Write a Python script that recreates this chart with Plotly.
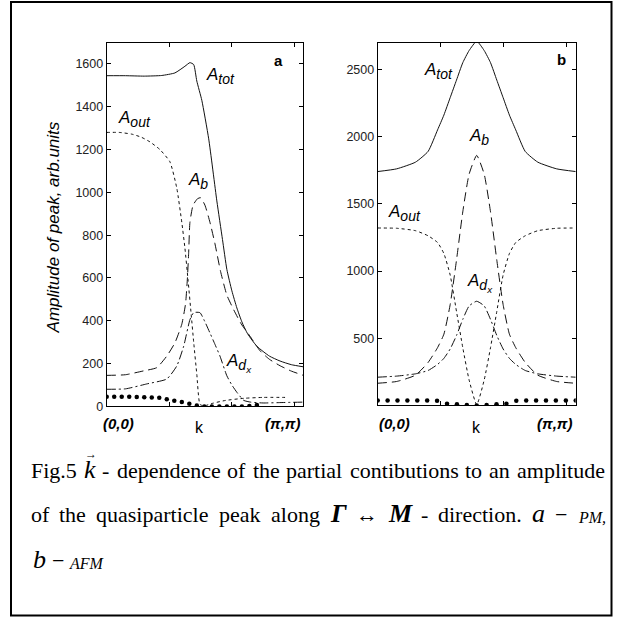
import plotly.graph_objects as go

W, H = 627, 626
PI = 3.1416

# ---------------- Panel a (PM) ----------------
xa_tot = [0, 0.3, 0.6, 0.88, 1.09, 1.25, 1.33, 1.39, 1.44, 1.52, 1.63, 1.76, 1.85, 1.92, 2.0, 2.08, 2.16, 2.25, 2.4, 2.6, 2.77, 2.95, 3.1416]
a_tot = [1545, 1545, 1543, 1546, 1558, 1589, 1606, 1597, 1520, 1430, 1250, 960, 780, 640, 540, 460, 395, 340, 281, 235, 212, 195, 185]

xa_out = [0, 0.2, 0.4, 0.55, 0.69, 0.85, 1.01, 1.12, 1.2, 1.25, 1.3, 1.35, 1.39, 1.44, 1.49, 1.55, 1.7, 1.9, 2.2, 2.5, 2.85]
a_out = [1280, 1280, 1272, 1258, 1236, 1200, 1143, 1020, 860, 740, 590, 430, 300, 150, 10, 2, 15, 28, 38, 42, 42]

xa_b = [0, 0.3, 0.59, 0.8, 0.96, 1.09, 1.2, 1.26, 1.29, 1.31, 1.33, 1.38, 1.45, 1.5, 1.57, 1.65, 1.73, 1.82, 1.92, 2.03, 2.15, 2.29, 2.45, 2.6, 2.77, 2.95, 3.1416]
a_b = [145, 148, 166, 181, 235, 297, 384, 480, 600, 720, 860, 940, 970, 975, 940, 860, 760, 630, 520, 451, 385, 328, 260, 220, 190, 165, 145]

xa_dx = [0, 0.3, 0.64, 0.96, 1.12, 1.23, 1.33, 1.39, 1.49, 1.57, 1.65, 1.73, 1.81, 1.92, 2.0, 2.08, 2.19, 2.3, 2.5, 2.8, 3.1416]
a_dx = [80, 82, 105, 128, 189, 281, 405, 438, 438, 395, 343, 290, 235, 143, 100, 66, 28, 20, 16, 18, 20]

xa_dots = [0, 0.12, 0.24, 0.36, 0.48, 0.6, 0.72, 0.84, 0.96, 1.08, 1.2, 1.32, 1.44, 1.56, 1.68, 1.8, 1.92, 2.04, 2.16, 2.28, 2.4]
a_dots = [45, 45, 45, 45, 44, 43, 42, 40, 33, 27, 20, 12, 4, 0, 0, 0, 0, 0, 0, 2, 6]

a_yticks = [0, 200, 400, 600, 800, 1000, 1200, 1400, 1600]

# ---------------- Panel b (AFM) ----------------
xb = [0, 0.3, 0.6, 0.8, 0.95, 1.05, 1.15, 1.25, 1.35, 1.45, 1.5708, 1.69, 1.79, 1.89, 1.99, 2.09, 2.19, 2.34, 2.54, 2.84, 3.1416]
b_tot = [1740, 1760, 1810, 1890, 2050, 2160, 2290, 2420, 2550, 2640, 2710, 2640, 2550, 2420, 2290, 2160, 2050, 1890, 1810, 1760, 1740]
b_out = [1320, 1318, 1300, 1262, 1212, 1130, 970, 700, 430, 190, 5, 190, 430, 700, 970, 1130, 1212, 1262, 1300, 1318, 1320]
b_b = [165, 178, 225, 320, 430, 530, 750, 1080, 1440, 1720, 1860, 1720, 1440, 1080, 750, 530, 430, 320, 225, 178, 165]
b_dx = [210, 218, 235, 260, 305, 350, 420, 520, 640, 740, 775, 740, 640, 520, 420, 350, 305, 260, 235, 218, 210]

xb_dots = [0, 0.157, 0.314, 0.471, 0.628, 0.785, 0.942, 1.1, 1.257, 1.414, 1.571, 1.728, 1.885, 2.042, 2.199, 2.356, 2.513, 2.67, 2.827, 2.985, 3.142]
b_dots = [37, 37, 37, 37, 37, 37, 35, 12, 8, 4, 0, 4, 8, 12, 35, 37, 37, 37, 37, 37, 37]

b_yticks = [500, 1000, 1500, 2000, 2500]

x_ticks = [1, 2, 3]
x_labels = ["(0,0)", "k", "(π,π)"]

caption1 = ["Fig.5", "k", "-", "dependence", "of", "the", "partial", "contibutions", "to", "an", "amplitude"]
caption2 = ["of", "the", "quasiparticle", "peak", "along", "Γ", "↔", "M", "-", "direction.", "a", "−", "PM,"]
caption3 = ["b", "−", "AFM"]

SANS = "Liberation Sans"
SERIF = "Liberation Serif"
LC = "#111111"

fig = go.Figure()


def curve(x, y, dash, xa, ya):
    fig.add_trace(go.Scatter(x=x, y=y, mode="lines", xaxis=xa, yaxis=ya,
                             line=dict(color=LC, width=1, dash=dash, shape="spline", smoothing=0.5),
                             hoverinfo="skip", showlegend=False))


def dots(x, y, xa, ya):
    fig.add_trace(go.Scatter(x=x, y=y, mode="markers", xaxis=xa, yaxis=ya,
                             marker=dict(color="black", size=4.5),
                             hoverinfo="skip", showlegend=False))


D_OUT = "3px,3px"
D_B = "9px,5px"
D_DX = "9px,3px,2px,3px"

curve(xa_tot, a_tot, "solid", "x", "y")
curve(xa_out, a_out, D_OUT, "x", "y")
curve(xa_b, a_b, D_B, "x", "y")
curve(xa_dx, a_dx, D_DX, "x", "y")
dots(xa_dots, a_dots, "x", "y")

curve(xb, b_tot, "solid", "x2", "y2")
curve(xb, b_out, D_OUT, "x2", "y2")
curve(xb, b_b, D_B, "x2", "y2")
curve(xb, b_dx, D_DX, "x2", "y2")
dots(xb_dots, b_dots, "x2", "y2")


def px_x(p):
    return p / W


def px_y(p):
    return 1 - p / H


ax_common = dict(showline=True, linecolor="black", linewidth=1, mirror="ticks",
                 ticks="inside", ticklen=4, tickcolor="black", showgrid=False,
                 zeroline=False, tickfont=dict(family=SANS, size=12.5, color="#222222"))

fig.update_layout(
    width=W, height=H,
    margin=dict(l=0, r=0, t=0, b=0),
    paper_bgcolor="white", plot_bgcolor="white",
    xaxis=dict(domain=[px_x(106.7), px_x(303.3)], range=[0, PI], anchor="y",
               tickvals=x_ticks, showticklabels=False, **ax_common),
    yaxis=dict(domain=[px_y(411), px_y(43)], range=[0, 1700], anchor="x",
               tickvals=a_yticks, **ax_common),
    xaxis2=dict(domain=[px_x(377.7), px_x(575.7)], range=[0, PI], anchor="y2",
                tickvals=x_ticks, showticklabels=False, **ax_common),
    yaxis2=dict(domain=[px_y(410), px_y(43)], range=[0, 2700], anchor="x2",
                tickvals=b_yticks, **ax_common),
)

ann = []


def lab(text, x, y, xr, yr, size=16, family=SANS, xanchor="center", yanchor="middle", **kw):
    ann.append(dict(text=text, x=x, y=y, xref=xr, yref=yr, showarrow=False,
                    xanchor=xanchor, yanchor=yanchor, borderpad=0, borderwidth=0,
                    font=dict(family=family, size=size, color="black"), **kw))


def A(sub, subsub=None):
    inner = sub if subsub is None else sub + "<sub>" + subsub + "</sub>"
    return "<i>A<sub><span style='font-size:14px'>" + inner + "</span></sub></i>"


# curve labels panel a
lab(A("tot"), 1.82, 1545, "x", "y", size=17)
lab(A("out"), 0.44, 1345, "x", "y", size=17)
lab(A("b"), 1.46, 1052, "x", "y", size=17)
lab(A("d", "x"), 2.12, 205, "x", "y", size=17)
lab("<b>a</b>", 2.74, 1615, "x", "y", size=15)
# curve labels panel b
lab(A("tot"), 0.96, 2490, "x2", "y2", size=17)
lab(A("b"), 1.6, 1995, "x2", "y2", size=17)
lab(A("out"), 0.43, 1432, "x2", "y2", size=17)
lab(A("d", "x"), 1.62, 910, "x2", "y2", size=17)
lab("<b>b</b>", 2.91, 2575, "x2", "y2", size=15)

# x-axis end labels
for xr, x0, kx, x1 in (("x", 0.19, 1.49, 2.82), ("x2", 0.27, 1.57, 2.81)):
    lab("<b><i>" + x_labels[0] + "</i></b>", x0, px_y(428), xr, "paper", size=15)
    lab(x_labels[1], kx, px_y(432), xr, "paper", size=16)
    lab("<b><i>" + x_labels[2] + "</i></b>", x1, px_y(428), xr, "paper", size=15)

# y title
lab("<i>Amplitude of peak, arb.units</i>", px_x(53), px_y(230), "paper", "paper", size=17, textangle=-90)

# ---------------- caption (justified lines, Times metrics) ----------------
TR = {"a": .444, "b": .5, "c": .444, "d": .5, "e": .444, "f": .333, "g": .5, "h": .5, "i": .278,
      "k": .5, "l": .278, "m": .778, "n": .5, "o": .5, "p": .5, "q": .5, "r": .333, "s": .389,
      "t": .278, "u": .5, "v": .5, "w": .722, "x": .5, "y": .5, "-": .333, ".": .25, ",": .25,
      "5": .5, "F": .556, "−": .564, "↔": 1.0}
TI = {"a": .5, "b": .5, "k": .444, "P": .611, "M": .833, "A": .611, "F": .611, ",": .25}
TBI = {"Γ": .611, "M": .889}

FS = 22
BIG = 26
SMALL = 16


def tok(word):
    """return (html, width_px, font size) for a caption token"""
    if word in ("k", "a", "b"):
        return "<i>" + word + "</i>", TI[word] * BIG, BIG
    if word in ("Γ", "M"):
        return "<b><i>" + word + "</i></b>", TBI[word] * BIG, BIG
    if word in ("PM,", "AFM"):
        return "<i>" + word + "</i>", sum(TI[c] for c in word) * SMALL, SMALL
    return word, sum(TR[c] for c in word) * FS, FS


def justified(words, x0, x1, base):
    toks = [tok(w) for w in words]
    total = sum(t[1] for t in toks)
    gap = (x1 - x0 - total) / (len(toks) - 1)
    x = x0
    out = []
    for html, w, s in toks:
        lab(html, px_x(x), px_y(base + 0.216 * s), "paper", "paper", size=s, family=SERIF,
            xanchor="left", yanchor="bottom")
        out.append((x, w))
        x += w + gap
    return out


pos1 = justified(caption1, 31, 605, 484)
justified(caption2, 31, 605, 528)

# arrow over k
kx, kw = pos1[1]
lab("→", px_x(kx + kw / 2 + 1.5), px_y(459), "paper", "paper", size=12, family=SERIF)

# last line (left aligned)
x = 33
for w in caption3:
    html, wd, s = tok(w)
    lab(html, px_x(x), px_y(575 + 0.216 * s), "paper", "paper", size=s, family=SERIF,
        xanchor="left", yanchor="bottom")
    x += wd + 5.5

fig.update_layout(annotations=ann)

fig.add_shape(type="rect", xref="paper", yref="paper",
              x0=px_x(11), x1=px_x(611.5), y0=px_y(622.5), y1=px_y(2),
              line=dict(color="black", width=2))

fig.write_html("out.html")
